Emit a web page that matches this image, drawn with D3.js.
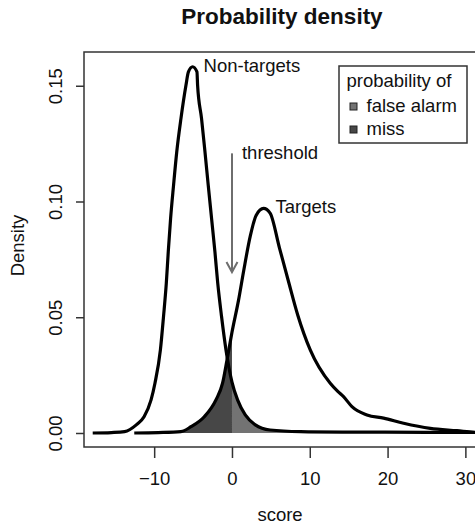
<!DOCTYPE html>
<html>
<head>
<meta charset="utf-8">
<script src="https://cdn.jsdelivr.net/npm/d3@7"></script>
<style>
  body { margin: 0; background: #fff; }
  text { font-family: "Liberation Sans", Arial, Helvetica, sans-serif; fill: #111; }
</style>
</head>
<body>
<div class="density"></div>
<script>
// Data
const nonTargetScore = [-17.9, -15.5, -13.8, -12.3, -11.3, -10.4, -9.9, -9.2, -8.8, -8.44, -8.19, -7.89, -7.51, -7.1, -6.56, -5.91, -5.6, -5.06, -4.5, -4.42, -3.91, -3.47, -3.05, -2.62, -2.19, -1.83, -1.34, -0.77, 0, 0.72, 1.71, 3.0, 4.9, 8.8, 15, 25, 32];
const nonTargetDensity = [0.0000, 0.0002, 0.0006, 0.0035, 0.0070, 0.0143, 0.0215, 0.0359, 0.0503, 0.0647, 0.0782, 0.0926, 0.1070, 0.1214, 0.1358, 0.1503, 0.1560, 0.1582, 0.1560, 0.1503, 0.1358, 0.1214, 0.1070, 0.0926, 0.0782, 0.0647, 0.0503, 0.0359, 0.0220, 0.0143, 0.0078, 0.0035, 0.0013, 0.0006, 0.0004, 0.0003, 0.0002];

const targetScore = [-12.56, -9.5, -6.56, -5.27, -3.56, -2.06, -1.21, -0.64, 0, 0.85, 1.5, 2.35, 3.1, 4.06, 4.9, 6.1, 7.3, 8.45, 10.06, 12.63, 13.6, 14.34, 15.42, 17.35, 19.49, 22.06, 25.49, 28.92, 31.3, 32];
const targetDensity = [0.0000, 0.0002, 0.0006, 0.0027, 0.0070, 0.0143, 0.0215, 0.0315, 0.0435, 0.0575, 0.0700, 0.0850, 0.0940, 0.0970, 0.0950, 0.0800, 0.0650, 0.0510, 0.0359, 0.0215, 0.0180, 0.0157, 0.0114, 0.0078, 0.0064, 0.0042, 0.0020, 0.0010, 0.0003, 0.0002];

const threshold = 0;
const xTicks = [-10, 0, 10, 20, 30];
const yTicks = [0.00, 0.05, 0.10, 0.15];
const legendTitle = 'probability of';
const legendLabels = ['false alarm', 'miss'];

const nonTargets = nonTargetScore.map((s, i) => ({ s: s, d: nonTargetDensity[i] }));
const targets = targetScore.map((s, i) => ({ s: s, d: targetDensity[i] }));

// Chart box
const W = 475, H = 527;
const margin = { top: 52, right: -5, bottom: 80, left: 84 };
const width = W - margin.left - margin.right;
const height = H - margin.top - margin.bottom;

const root = d3.select('.density')
  .append('svg')
  .attr('width', W)
  .attr('height', H);

const svg = root.append('g')
  .attr('transform', `translate(${margin.left},${margin.top})`);

// Scales
const x = d3.scaleLinear()
  .domain([-19.02, 31.88])
  .range([0, width]);

const y = d3.scaleLinear()
  .domain([-0.00605, 0.16458])
  .range([height, 0]);

const line = d3.line()
  .x(d => x(d.s))
  .y(d => y(d.d))
  .curve(d3.curveMonotoneX);

const area = d3.area()
  .x(d => x(d.s))
  .y0(y(0))
  .y1(d => y(d.d))
  .curve(d3.curveMonotoneX);

// Shaded error areas
svg.append('path')
  .datum(nonTargets.filter(d => d.s >= threshold))
  .attr('d', area)
  .attr('fill', '#737373');

svg.append('path')
  .datum(targets.filter(d => d.s <= threshold))
  .attr('d', area)
  .attr('fill', '#474747');

// Density curves
[nonTargets, targets].forEach(function(data) {
  svg.append('path')
    .datum(data)
    .attr('d', line)
    .attr('fill', 'none')
    .attr('stroke', '#000')
    .attr('stroke-width', 3.2)
    .attr('stroke-linejoin', 'round');
});

// Box
svg.append('rect')
  .attr('x', 0)
  .attr('y', 0)
  .attr('width', width)
  .attr('height', height)
  .attr('fill', 'none')
  .attr('stroke', '#333')
  .attr('stroke-width', 1.5);

// Axes
const xAxis = svg.append('g')
  .attr('transform', `translate(0,${height})`)
  .call(d3.axisBottom(x).tickValues(xTicks).tickSize(11).tickPadding(14).tickFormat(d3.format('d')));

const yAxis = svg.append('g')
  .call(d3.axisLeft(y).tickValues(yTicks).tickSize(8).tickFormat(d3.format('.2f')));

[xAxis, yAxis].forEach(function(g) {
  g.select('.domain').remove();
  g.selectAll('line').attr('stroke', '#333').attr('stroke-width', 1.5);
  g.selectAll('text')
    .style('font-family', '"Liberation Sans", Arial, sans-serif')
    .style('font-size', '18.5px')
    .attr('fill', '#111');
});

yAxis.selectAll('.tick text')
  .attr('x', null)
  .attr('dy', null)
  .attr('text-anchor', 'middle')
  .attr('transform', 'translate(-22,0) rotate(-90)');

// Axis labels
svg.append('text')
  .attr('x', width / 2 - 2)
  .attr('y', height + 74)
  .attr('text-anchor', 'middle')
  .style('font-size', '18.5px')
  .text('score');

svg.append('text')
  .attr('transform', `translate(${24 - margin.left},${height / 2 - 4}) rotate(-90)`)
  .attr('text-anchor', 'middle')
  .style('font-size', '18.5px')
  .text('Density');

// Title
root.append('text')
  .attr('x', 282)
  .attr('y', 24)
  .attr('text-anchor', 'middle')
  .style('font-size', '22.5px')
  .style('font-weight', 'bold')
  .text('Probability density');

// Curve labels
svg.append('text')
  .attr('x', x(-5.06) + 11)
  .attr('y', y(0.1582) + 5)
  .style('font-size', '18.5px')
  .text('Non-targets');

svg.append('text')
  .attr('x', x(4.06) + 12)
  .attr('y', y(0.097) + 5)
  .style('font-size', '18.5px')
  .text('Targets');

// Threshold arrow
const arrowTop = y(0.1208), arrowTip = y(0.0695);
svg.append('line')
  .attr('x1', x(threshold)).attr('x2', x(threshold))
  .attr('y1', arrowTop).attr('y2', arrowTip)
  .attr('stroke', '#6e6e6e')
  .attr('stroke-width', 2);

svg.append('path')
  .attr('d', `M${x(threshold) - 5.5},${arrowTip - 10}L${x(threshold)},${arrowTip}L${x(threshold) + 5.5},${arrowTip - 10}`)
  .attr('fill', 'none')
  .attr('stroke', '#6e6e6e')
  .attr('stroke-width', 2);

svg.append('text')
  .attr('x', x(threshold) + 10)
  .attr('y', arrowTop + 6)
  .style('font-size', '18.5px')
  .text('threshold');

// Legend
const legend = root.append('g').attr('transform', 'translate(339,66)');

legend.append('rect')
  .attr('width', 128)
  .attr('height', 77)
  .attr('fill', '#fff')
  .attr('stroke', '#333')
  .attr('stroke-width', 1.5);

legend.append('text')
  .attr('x', 7.5)
  .attr('y', 21)
  .style('font-size', '18.5px')
  .text(legendTitle);

const legendFill = ['#737373', '#474747'];
legendLabels.forEach(function(label, i) {
  legend.append('rect')
    .attr('x', 11)
    .attr('y', 37 + i * 23)
    .attr('width', 7)
    .attr('height', 7)
    .attr('fill', legendFill[i])
    .attr('stroke', '#222')
    .attr('stroke-width', 1);

  legend.append('text')
    .attr('x', 27.5)
    .attr('y', 46 + i * 23)
    .style('font-size', '18.5px')
    .text(label);
});
</script>
</body>
</html>
